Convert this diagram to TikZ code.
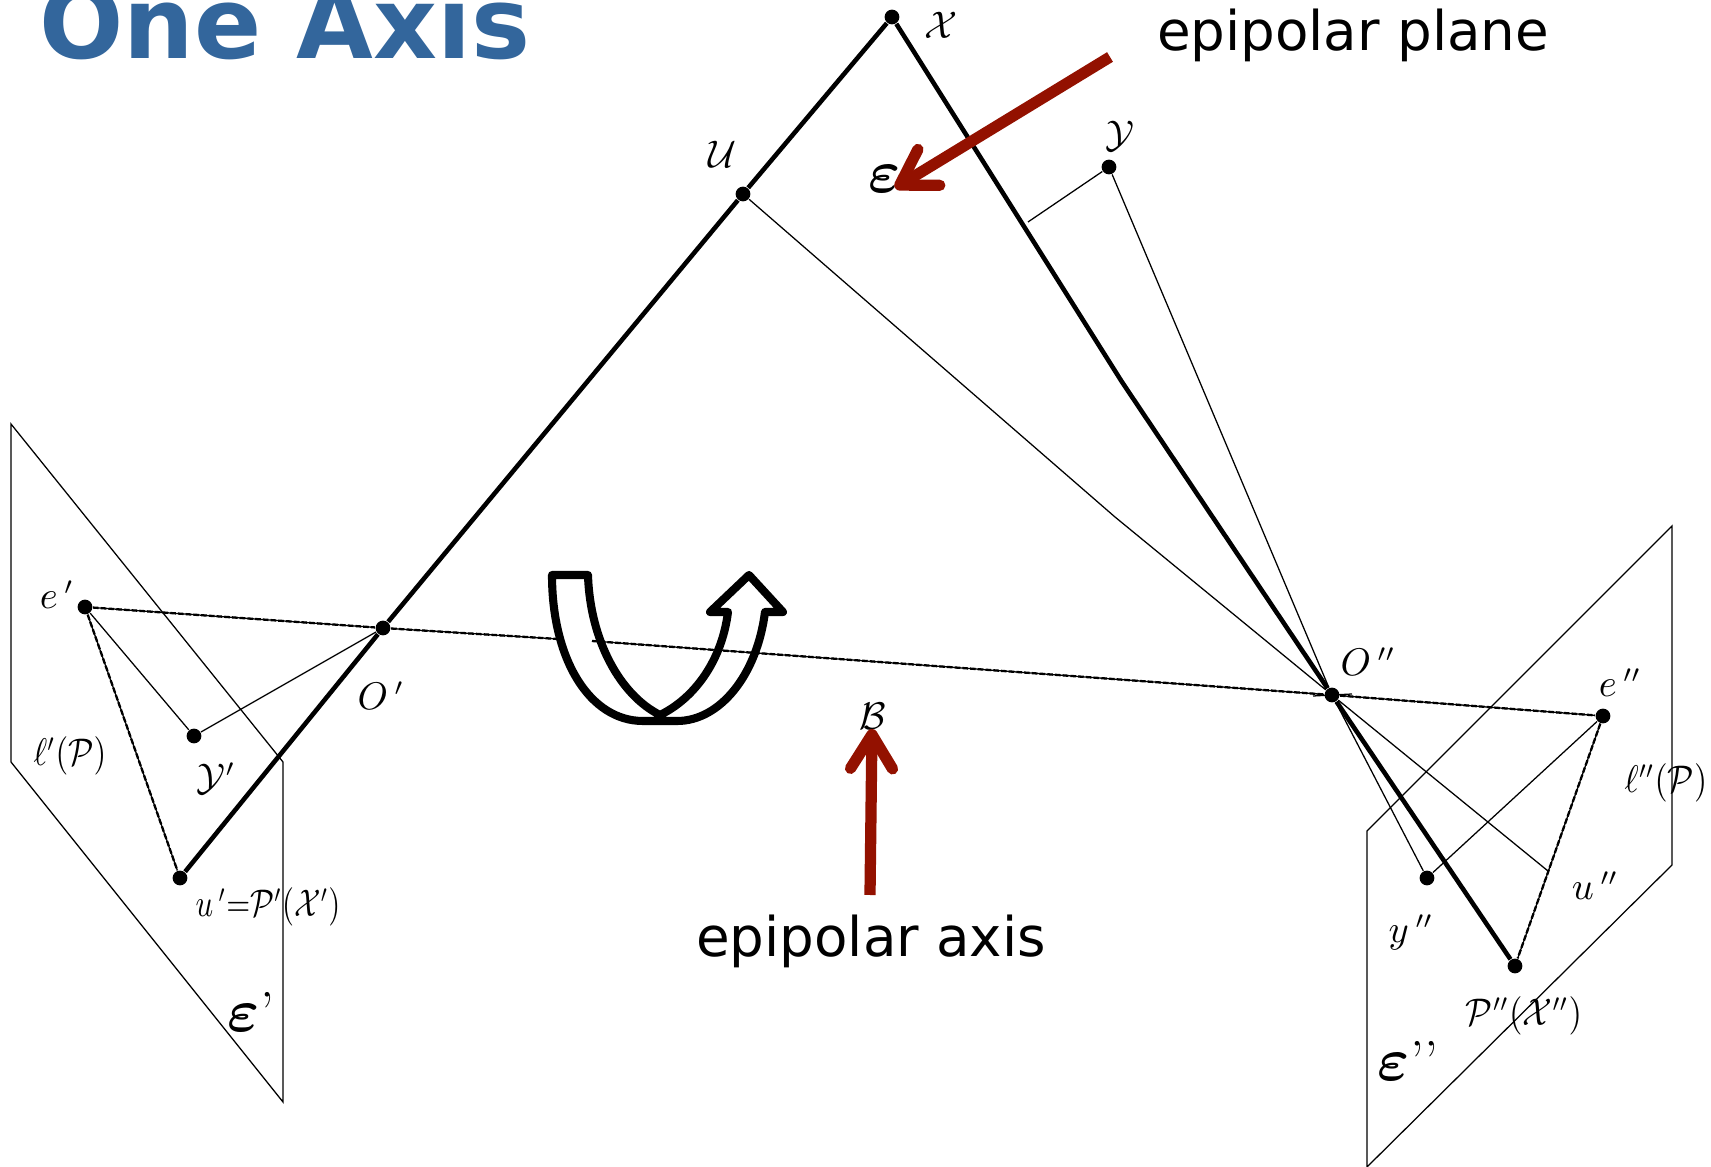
\documentclass[tikz,border=0pt]{standalone}
\usepackage{amsmath,amssymb,bm}
\usepackage{fontspec}
\setsansfont{DejaVu Sans}
\usepackage{tikz}
\usetikzlibrary{calc,arrows.meta,positioning}
\definecolor{epiBlue}{RGB}{51,102,156}
\definecolor{epiRed}{RGB}{147,17,0}
\newcommand{\narrowlbl}[2]{\scalebox{#1}[1]{#2}}
\tikzset{
    ptdot/.style={circle, fill=black, inner sep=0pt, minimum size=4.2pt},
    lbl/.style={inner sep=0pt, font=\fontsize{10.5}{12}\selectfont},
    biglbl/.style={inner sep=0pt, font=\fontsize{16}{18}\selectfont},
    epitext/.style={inner sep=0pt, font=\sffamily\fontsize{15.55}{18}\selectfont},
    thinln/.style={black, line width=0.36pt},
    thickln/.style={black, line width=1.3pt},
    dashln/.style={thinln, postaction={draw, line width=0.65pt, dash pattern=on 1.6pt off 0.6pt}},
    planeln/.style={black, line width=0.36pt, line join=miter},
    redarrow/.style={epiRed, line width=3.2pt, -{Straight Barb[length=3.4mm,width=4.2mm,round]}},
    turnln/.style={black, line width=2.3pt, line join=round},
}
\begin{document}
\begin{tikzpicture}[x=0.01cm,y=-0.01cm]
    \clip (0,0) rectangle (1711,1167);
    \fill[white] (0,0) rectangle (1711,1167);

    % Title
    \node[inner sep=0pt, anchor=base west, text=epiBlue, font=\sffamily\bfseries\fontsize{28.2}{30}\selectfont] (title) at (39,59) {One Axis};

    % Image planes
    \draw[planeln] (11,424) -- (283,762) -- (283,1102) -- (11,762) -- cycle;
    \draw[planeln] (1367,831) -- (1672,526) -- (1672,865) -- (1367,1167) -- cycle;

    % Points
    \node[ptdot] (ptX) at (892,17) {};
    \node[ptdot] (ptU) at (743,194) {};
    \node[ptdot] (ptY) at (1109,167) {};
    \node[ptdot] (ptOa) at (383,628) {};
    \node[ptdot] (ptOb) at (1332,695) {};
    \node[ptdot] (ptEa) at (85,607) {};
    \node[ptdot] (ptEb) at (1603,716) {};
    \node[ptdot] (ptYa) at (194,736) {};
    \node[ptdot] (ptUa) at (180,878) {};
    \node[ptdot] (ptYb) at (1427,878) {};
    \node[ptdot] (ptUb) at (1515,966) {};
    \coordinate (bendX) at (1122,382);
    \coordinate (bendU) at (1115,517);
    \coordinate (stubY) at (1028,222);
    \coordinate (endU) at (1548,871);
    \coordinate (tickA) at (1313,696);
    \coordinate (tickB) at (1352,694);

    % Turning arrow
    \fill[white] (552,575) .. controls (552,660) and (590,721) .. (643,721)
        -- (660,715) .. controls (620,695) and (590,640) .. (588,575) -- cycle;

    % Rays
    \draw[dashln] (ptEa) -- (ptOa);
    \draw[dashln] (ptOa) -- (558,639);
    \draw[dashln] (592,641) -- (ptOb);
    \draw[dashln] (ptOb) -- (ptEb);
    \draw[thinln] (tickA) -- (tickB);
    \draw[dashln] (ptEa) -- (ptUa);
    \draw[dashln] (ptEb) -- (ptUb);
    \draw[thinln] (ptEa) -- (ptYa) -- (ptOa);
    \draw[thinln] (ptEb) -- (ptYb) -- (ptOb) -- (ptY) -- (stubY);
    \draw[thinln] (ptU) -- (bendU) -- (ptOb) -- (endU);
    \draw[thickln] (ptX) -- (ptU) -- (ptOa) -- (ptUa);
    \draw[thickln] (ptX) -- (bendX) -- (ptOb) -- (ptUb);

    \draw[turnln] (552,575) .. controls (552,660) and (590,721) .. (643,721)
        -- (677,721) .. controls (720,721) and (757,675) .. (765,612)
        -- (783,612) -- (749,575) -- (710,612) -- (728,612)
        .. controls (722,660) and (695,698) .. (660,715)
        .. controls (620,695) and (590,640) .. (588,575) -- cycle;

    % Labels
    \node[lbl] (lblX) at (941,25) {$\mathcal{X}$};
    \node[lbl] (lblU) at (722,154) {$\mathcal{U}$};
    \node[lbl] (lblY) at (1120,136) {$\mathcal{Y}$};
    \node[lbl] (lblB) at (873,716) {$\mathcal{B}$};
    \node[lbl] (lblEa) at (57,595) {$e\,'$};
    \node[lbl] (lblEb) at (1620,683) {$e\,''$};
    \node[lbl] (lblOa) at (381,696) {$O\,'$};
    \node[lbl] (lblOb) at (1368,662) {$O\,''$};
    \node[lbl] (lblYa) at (216,779) {$\mathcal{Y}'$};
    \node[lbl] (lblYb) at (1411,932) {$y\,''$};
    \node[lbl] (lblLa) at (70,756) {\narrowlbl{0.85}{$\ell'(\mathcal{P})$}};
    \node[lbl] (lblLb) at (1666,783) {\narrowlbl{0.88}{$\ell''(\mathcal{P})$}};
    \node[lbl] (lblPa) at (268,907) {\narrowlbl{0.8}{$u\,'{=}\mathcal{P}'(\mathcal{X}')$}};
    \node[lbl] (lblUb) at (1595,886) {$u\,''$};
    \node[lbl] (lblPb) at (1524,1016) {\narrowlbl{0.9}{$\mathcal{P}''(\mathcal{X}'')$}};
    \node[biglbl] (lblE) at (885,179) {$\bm{\varepsilon}$};
    \node[biglbl] (lblEpa) at (251,1012) {$\bm{\varepsilon}$’};
    \node[biglbl] (lblEpb) at (1408,1061) {$\bm{\varepsilon}$’’};
    \node[epitext] (lblPlane) at (1353,35) {epipolar plane};
    \node[epitext] (lblAxis) at (871,941) {epipolar axis};

    % Red arrows
    \coordinate (planeTail) at (1110,57);
    \coordinate (planeTip) at (895,188);
    \coordinate (axisTail) at (870,895);
    \coordinate (axisTip) at (872,729);
    \draw[redarrow] (planeTail) -- (planeTip);
    \draw[redarrow] (axisTail) -- (axisTip);
\end{tikzpicture}
\end{document}
